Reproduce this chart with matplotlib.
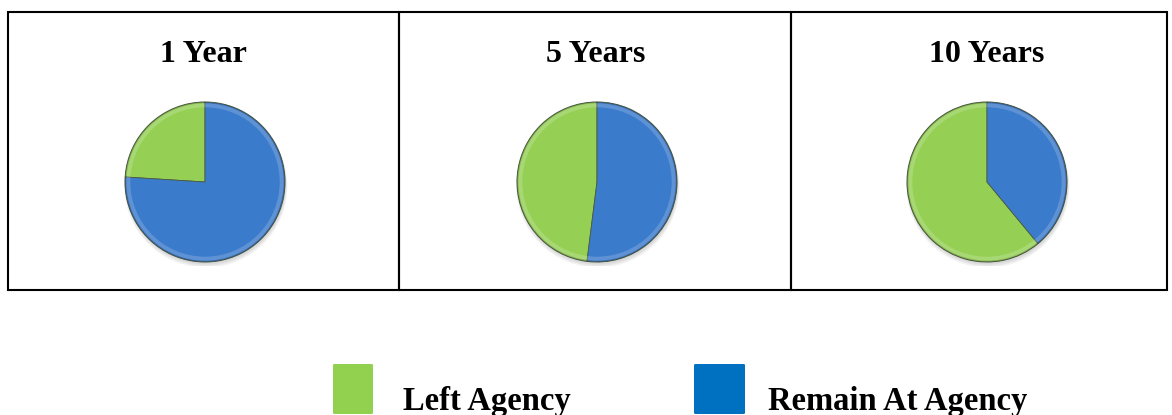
import matplotlib
matplotlib.use("Agg")
import matplotlib.pyplot as plt
from matplotlib.patches import Rectangle, FancyBboxPatch, Circle

plt.rcParams['font.family'] = ['Liberation Serif', 'DejaVu Serif']

# Share of staff who left vs. remained, by tenure horizon (percent)
periods = ["1 Year", "5 Years", "10 Years"]
left_agency = [24, 48, 61]
remain_at_agency = [76, 52, 39]
legend_labels = ["Left Agency", "Remain At Agency"]

pie_green = "#95D055"
pie_blue = "#3B7BCB"
key_green = "#92D050"
key_blue = "#0070C0"

W, H = 1172, 415
fig = plt.figure(figsize=(W / 100, H / 100), dpi=100)

def fx(px):
    return px / W

def fy(py):
    return 1 - py / H

# panel frames
panel_edges = [8, 399, 791, 1167]
top, bottom = 12, 290
pie_cx = [205, 597, 987]
title_cx = [203, 596, 987]
pie_cy, pie_r = 182, 80

for i, name in enumerate(periods):
    x0, x1 = panel_edges[i], panel_edges[i + 1]
    fig.add_artist(Rectangle((fx(x0), fy(bottom)), fx(x1 - x0), (bottom - top) / H,
                             transform=fig.transFigure, fill=False,
                             edgecolor="black", linewidth=1.5))
    fig.text(fx(title_cx[i]), fy(62), name, ha="center", va="baseline",
             fontsize=23, fontweight="bold")

    ax = fig.add_axes([fx(pie_cx[i] - pie_r - 4), fy(pie_cy + pie_r + 4),
                       fx(2 * pie_r + 8), (2 * pie_r + 8) / H])
    # soft drop shadow beneath the pie
    for k in range(3):
        ax.add_patch(Circle((0.01, -0.03 - 0.01 * k), 1.0 + 0.01 * k,
                            color="black", alpha=0.05, zorder=0, lw=0))
    wedges, _ = ax.pie([left_agency[i], remain_at_agency[i]],
                       colors=[pie_green, pie_blue], startangle=90,
                       counterclock=True, radius=1.0,
                       wedgeprops=dict(edgecolor="#4a5a40", linewidth=0.6))
    for w in wedges:
        w.set_zorder(2)
    # bevel highlight / shade rings
    ax.add_patch(Circle((0, 0), 0.96, fill=False, edgecolor="white",
                        alpha=0.18, lw=3, zorder=3))
    ax.add_patch(Circle((0, 0), 0.995, fill=False, edgecolor="black",
                        alpha=0.15, lw=1.5, zorder=3))
    ax.set_xlim(-1.05, 1.05)
    ax.set_ylim(-1.05, 1.05)
    ax.set_aspect("equal")
    ax.axis("off")

# legend keys
key_colors = [key_green, key_blue]
key_x = [333, 694]
key_w = [40, 51]
text_x = [403, 768]
for kx, kw, tx, col, lab in zip(key_x, key_w, text_x, key_colors, legend_labels):
    fig.add_artist(FancyBboxPatch((fx(kx), fy(414)), fx(kw), 50 / H,
                                  boxstyle="round,pad=0,rounding_size=0.002",
                                  transform=fig.transFigure,
                                  facecolor=col, edgecolor="none"))
    fig.text(fx(tx), fy(410), lab, ha="left", va="baseline",
             fontsize=23.5, fontweight="bold")

fig.savefig("out.png", dpi=100)
